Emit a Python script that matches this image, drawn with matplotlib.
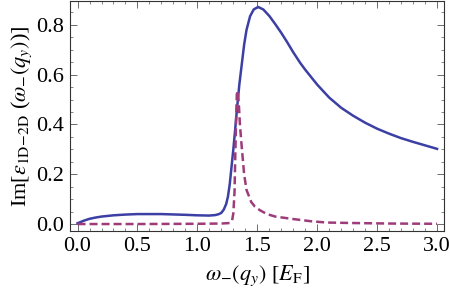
import matplotlib
matplotlib.use("Agg")
import matplotlib.pyplot as plt
from matplotlib.ticker import MultipleLocator, FormatStrFormatter

plt.rcParams['font.family'] = ['Liberation Serif', 'DejaVu Serif']
plt.rcParams['mathtext.fontset'] = 'stix'

# Solid curve (blue)
x_solid = [0.0, 0.05, 0.1, 0.15, 0.2, 0.3, 0.4, 0.5, 0.7, 0.9, 1.0, 1.1, 1.15, 1.18,
           1.2, 1.22, 1.24, 1.255, 1.27, 1.285, 1.30, 1.315, 1.33, 1.35, 1.37, 1.39, 1.41,
           1.44, 1.47, 1.507, 1.55, 1.60, 1.65, 1.70, 1.75, 1.80, 1.857, 1.90, 1.95, 2.0,
           2.1, 2.2, 2.3, 2.4, 2.5, 2.6, 2.7, 2.8, 2.9, 3.0]
y_solid = [0.003, 0.013, 0.021, 0.026, 0.030, 0.035, 0.038, 0.040, 0.040, 0.037, 0.035, 0.034, 0.036, 0.040,
           0.045, 0.058, 0.080, 0.110, 0.160, 0.230, 0.300, 0.378, 0.460, 0.560, 0.640, 0.720, 0.780,
           0.835, 0.862, 0.872, 0.862, 0.836, 0.803, 0.768, 0.730, 0.690, 0.648, 0.620, 0.590, 0.560,
           0.508, 0.467, 0.435, 0.407, 0.383, 0.363, 0.345, 0.330, 0.316, 0.302]

# Dashed curve (purple)
x_dash = [0.0, 0.5, 1.0, 1.2, 1.27, 1.29, 1.30, 1.31, 1.315, 1.322, 1.329, 1.335, 1.345, 1.355, 1.37,
          1.39, 1.41, 1.45, 1.48, 1.52, 1.58, 1.65, 1.8, 1.95, 2.08, 2.3, 2.6, 3.0]
y_dash = [0.0, 0.0, 0.001, 0.002, 0.004, 0.015, 0.043, 0.13, 0.245, 0.40, 0.52, 0.535, 0.49, 0.40, 0.31,
          0.20, 0.137, 0.088, 0.07, 0.056, 0.040, 0.030, 0.020, 0.011, 0.006, 0.004, 0.002, 0.001]

fig = plt.figure(figsize=(4.5, 2.98), dpi=100)
ax = fig.add_axes([70/450, 1-231/298, 374/450, 230/298])

ax.plot(x_solid, y_solid, color='#3C3FA4', lw=1.8, solid_joinstyle='round')
ax.plot(x_dash, y_dash, color='#9E3B7A', lw=1.8, ls=(0, (3.2, 1.6)))

ax.set_xlim(-0.063, 3.058)
ax.set_ylim(-0.028, 0.896)

ax.xaxis.set_major_locator(MultipleLocator(0.5))
ax.xaxis.set_minor_locator(MultipleLocator(0.1))
ax.yaxis.set_major_locator(MultipleLocator(0.2))
ax.yaxis.set_minor_locator(MultipleLocator(0.05))
ax.xaxis.set_major_formatter(FormatStrFormatter('%.1f'))
ax.yaxis.set_major_formatter(FormatStrFormatter('%.1f'))

ax.tick_params(which='both', direction='in', top=True, right=True, color='#555555', labelsize=16)
ax.tick_params(which='major', length=5, width=0.6, pad=4)
ax.tick_params(which='minor', length=2.5, width=0.5)
for s in ax.spines.values():
    s.set_color('#333333')
    s.set_linewidth(0.8)

ax.set_xlabel(r'$\omega_{-}(q_y)$ [$E_\mathrm{F}$]', fontsize=16, labelpad=6)
ax.set_ylabel(r'Im[$\varepsilon_{\mathrm{1D\!-\!2D}}$ ($\omega_{-}(q_y)$)]', fontsize=16, labelpad=2)

fig.savefig('out.png', dpi=100)
